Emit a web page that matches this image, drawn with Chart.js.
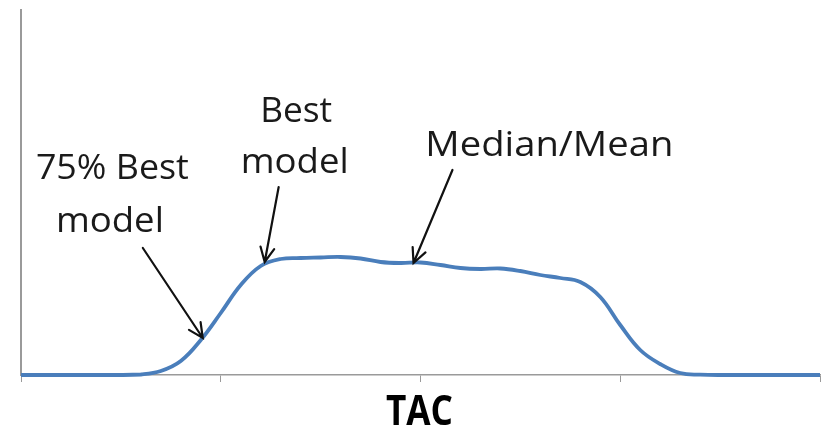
<!DOCTYPE html>
<html lang="en">
<head>
    <meta charset="UTF-8">
    <title>TAC distribution</title>
    <script src="https://cdn.jsdelivr.net/npm/chart.js"></script>
    <style>
        body {
            margin: 0;
            padding: 0;
            background: #ffffff;
        }
        .wrap {
            width: 827px;
            height: 430px;
        }
    </style>
</head>
<body>
    <div class="wrap">
        <canvas id="tacChart" width="827" height="430"></canvas>
    </div>

    <script>
        // values (x = TAC, y = relative height of curve)
        const tacValues = [0, 100, 120, 140, 160, 180, 200, 220, 240, 260, 280, 300, 320, 340, 360, 380, 400, 420, 440, 460, 480, 500, 520, 540, 560, 580, 600, 620, 640, 660, 680, 700, 800];
        const curveHeights = [0, 0, 0.5, 4, 14, 35, 62, 90, 109, 116, 117, 117.5, 118, 116.5, 113, 112, 112.5, 110, 107, 106, 106.5, 104, 100, 97, 93, 78, 50, 25, 11, 2, 0.3, 0, 0];
        const tacTicks = [0, 200, 400, 600, 800];

        // text and arrows, anchored in data units
        const notes = [
            { text: "75% Best", x: 91.5, y: 196, w: 153 },
            { text: "model", x: 89, y: 143, w: 108 },
            { text: "Best", x: 275.5, y: 253, w: 72 },
            { text: "model", x: 274, y: 202, w: 108 },
            { text: "Median/Mean", x: 529, y: 219, w: 248 }
        ];
        const arrows = [
            { from: [122, 127], to: [182, 37] },
            { from: [258, 188], to: [244, 113] },
            { from: [432, 205], to: [393, 112] }
        ];

        function fitText(ctx, text, cx, y, w) {
            const m = ctx.measureText(text).width;
            ctx.save();
            ctx.translate(cx, y);
            ctx.scale(w / m, 1);
            ctx.fillText(text, 0, 0);
            ctx.restore();
        }

        const notesPlugin = {
            id: "notes",
            afterDatasetsDraw(chart) {
                const ctx = chart.ctx;
                const xs = chart.scales.x;
                const ys = chart.scales.y;
                ctx.save();
                ctx.fillStyle = "#1a1a1a";
                ctx.textAlign = "center";
                ctx.textBaseline = "alphabetic";
                ctx.font = "34px 'Open Sans'";
                notes.forEach(n => {
                    fitText(ctx, n.text, xs.getPixelForValue(n.x), ys.getPixelForValue(n.y), n.w);
                });

                ctx.strokeStyle = "#111111";
                ctx.lineWidth = 2.2;
                ctx.lineCap = "round";
                arrows.forEach(a => {
                    const x1 = xs.getPixelForValue(a.from[0]);
                    const y1 = ys.getPixelForValue(a.from[1]);
                    const x2 = xs.getPixelForValue(a.to[0]);
                    const y2 = ys.getPixelForValue(a.to[1]);
                    const ang = Math.atan2(y2 - y1, x2 - x1);
                    const head = 16;
                    ctx.beginPath();
                    ctx.moveTo(x1, y1);
                    ctx.lineTo(x2, y2);
                    ctx.moveTo(x2 - head * Math.cos(ang - 0.45), y2 - head * Math.sin(ang - 0.45));
                    ctx.lineTo(x2, y2);
                    ctx.lineTo(x2 - head * Math.cos(ang + 0.45), y2 - head * Math.sin(ang + 0.45));
                    ctx.stroke();
                });

                // axis title
                ctx.fillStyle = "#000000";
                ctx.font = "bold 42px 'Open Sans'";
                fitText(ctx, "TAC", xs.getPixelForValue(399), chart.chartArea.bottom + 50, 67);
                ctx.restore();
            }
        };

        new Chart(document.getElementById("tacChart"), {
            type: "line",
            data: {
                labels: tacValues,
                datasets: [{
                    data: tacValues.map((v, i) => ({ x: v, y: curveHeights[i] })),
                    borderColor: "#4a7ebb",
                    borderWidth: 3.8,
                    pointRadius: 0,
                    tension: 0.4,
                    fill: false,
                    clip: false
                }]
            },
            options: {
                responsive: false,
                animation: false,
                events: [],
                layout: { padding: { left: 13, right: 7, top: 10, bottom: 48 } },
                plugins: {
                    legend: { display: false },
                    tooltip: { enabled: false }
                },
                scales: {
                    x: {
                        type: "linear",
                        min: 0,
                        max: 800,
                        afterBuildTicks: axis => { axis.ticks = tacTicks.map(v => ({ value: v })); },
                        ticks: { display: false },
                        grid: { drawOnChartArea: false, drawTicks: true, tickLength: 7, color: "#9a9a9a", lineWidth: 1 },
                        border: { color: "#9a9a9a", width: 1.5 }
                    },
                    y: {
                        min: 0,
                        max: 365,
                        ticks: { display: false },
                        grid: { display: false },
                        border: { color: "#9a9a9a", width: 2 }
                    }
                }
            },
            plugins: [notesPlugin]
        });
    </script>
</body>
</html>
